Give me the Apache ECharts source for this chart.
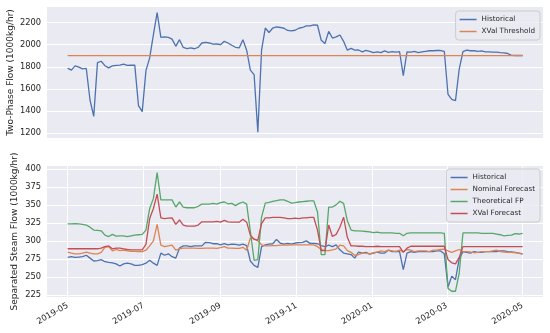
<!DOCTYPE html>
<html><head><meta charset="utf-8">
<script src="https://cdn.jsdelivr.net/npm/echarts@6/dist/echarts.min.js"></script>
<style>html,body{margin:0;padding:0;background:#fff}#c{width:550px;height:333px}</style>
</head><body><div id="c"></div>
<script>
// sampling: one value every 3 days starting 2019-05-01 (123 samples, last = 2020-05-01)
const startDate = [2019, 4, 1];
const stepDays = 3;

const twoPhaseHistorical = [1788,1770,1808,1797,1782,1785,1500,1352,1838,1850,1810,1790,1808,1812,1815,1825,1812,1814,1815,1450,1395,1765,1880,2090,2290,2065,2070,2065,2050,1985,2045,1975,1965,1970,1963,1975,2015,2020,2015,2005,2006,2000,2030,2015,1995,1976,1970,2045,1950,1770,1730,1210,1950,2150,2110,2150,2160,2155,2148,2128,2125,2130,2148,2155,2170,2170,2178,2175,2040,2010,2120,2060,2070,2087,2030,1950,1966,1950,1952,1935,1948,1940,1928,1935,1928,1943,1930,1937,1932,1938,1720,1935,1932,1940,1928,1935,1940,1945,1945,1947,1947,1940,1550,1505,1495,1780,1937,1950,1945,1945,1940,1943,1935,1935,1932,1932,1928,1926,1920,1903,1902,1902,1902];
const xvalThreshold = 1900;

const steamHistorical = [277,278,277,277.5,278,280,276,272,272.5,274,271,270,269.5,268,265,268,269,268,266,266,267,269,273,269,266,283,280,282,278,276,290,293,293,292,293,293,293,298,297.5,296,296,294.5,296,294.5,295.5,295,294,295.5,293.5,272,266,263,292,294.5,295.5,296,302,297,295.5,296.5,295.5,297,297.5,298,300,296.5,296.5,296,293.5,292,294,292,294.5,287.5,283,282,281,276,284.5,283,284,281.5,283,284.5,283,283,287,285,285.5,285,260,283,285,284,285,285,285,285,285,286,286,282,236,251,246,275,285,284,283,285,284,284,285,285,285,285,286,286,285,284.5,284,283,282];
const nominalForecast = [284.5,283,282,282,283,284.5,283,282,282,284,291,292,286,288,286.5,287,286,285.5,285.5,285,285,287,293,300,323,294,292,293,294,287,289,290,290,290,290,289.5,289.5,290,290,290,289.5,290.5,292,290,290,289.5,289.5,291,287,304,303,300,294.5,293,293,293.5,293.5,294,294,294,294.5,294.5,294.5,294.5,294.5,294.5,294.5,292,288,286.5,286.5,287.5,289,294,293,286.5,284,280,281,283,283,282,283.5,284.5,286,285,287,286,285,287,285,288,287,285,286,286,286,285,287,287,288,288.5,286,284,286,288,285,285,284.5,283.5,284,285,285,285,286,287,285,284.5,284,284,283.5,282.5,281.5];
const theoreticalFP = [323.5,323.5,324,323.5,323,322,319,315,314.5,314,308,306,309,306.5,307,307,306,307,308,308.5,309,315,345,359,395,357,357,357,357,347,354,347,346,346,346,348,351,351,351,352,351,353,354,351.5,352,349,352,354,351,313,273,274,333,352.5,353.5,355,356,357,357,355,352.5,353,354,354.5,355,355.5,355.5,340,281,281,347,347,350,355,352,328,315,314,314,313.5,313,312.5,311.5,312,311,311,311,311,310.5,310.5,307,310.5,311,311,311,311,311,311,311,311,311,310.5,234,230,230,255,311,311,311,311,311,310.5,310.5,310.5,310.5,309.5,308.5,307,307.5,308,310,309.5,310.5];
const xvalForecast = [289,289,289,289,289,289,289,289,289,290,292,293,289,290,290,289,288,287.5,287.5,287.5,287.5,295,331,345,365,332,331,331.5,332,323,329,322,320.5,320.5,320.5,322,326.5,326.5,326.5,326.5,327,326,328.5,326.5,326,326,326,330,326,308,302,301,324,332,332,332.5,332.5,332.5,332,331,331,331.5,331,332,332,332.5,332.5,315,286.5,286.5,322,306,309,319,333,305,293,293,292.5,292.5,292,292,292,292.5,292,292,292,292,292,292,284,290,292.5,292.5,292.5,292.5,292.5,292.5,292.5,292.5,292.5,292.5,274,269.5,268,277,292,292,292,292,292,292,292,292,292,292,292,292,292,292,292,292,292];

const xTickLabels = ['2019-05','2019-07','2019-09','2019-11','2020-01','2020-03','2020-05'];
const topYTicks = [1200,1400,1600,1800,2000,2200];
const bottomYTicks = [225,250,275,300,325,350,375,400];

const DAY = 86400000;
const dates = twoPhaseHistorical.map((_, i) => new Date(startDate[0], startDate[1], startDate[2] + i * stepDays).getTime());
const pair = arr => arr.map((v, i) => [dates[i], v]);
const xMin = dates[0] - 16.6 * DAY;
const xMax = dates[dates.length - 1] + 16.4 * DAY;
const xTickVals = xTickLabels.map(s => { const p = s.split('-'); return new Date(+p[0], +p[1] - 1, 1).getTime(); });

const TXT = '#262626';
const FONT = 'DejaVu Sans';
const C = ['#4c72b0', '#dd8452', '#55a868', '#c44e52'];
const pad2 = n => (n < 10 ? '0' : '') + n;

const chart = echarts.init(document.getElementById('c'), null, { renderer: 'canvas' });
const lineSeries = (name, data, color, xi) => ({
  type: 'line', name, data, xAxisIndex: xi, yAxisIndex: xi, showSymbol: false, symbol: 'none',
  lineStyle: { color, width: 1.3 }, itemStyle: { color }, emphasis: { disabled: true }
});
const legendBase = {
  orient: 'vertical', icon: 'rect', itemWidth: 17, itemHeight: 1.5, itemGap: 3,
  backgroundColor: 'rgba(234,234,242,0.8)', borderColor: '#cccccc', borderWidth: 1, borderRadius: 3,
  padding: [4, 5, 4, 4], textStyle: { fontSize: 7.2, color: TXT, fontFamily: FONT, lineHeight: 9 }
};
const yAxisBase = (gi, min, max, ticks, name, gap) => ({
  type: 'value', gridIndex: gi, min, max, name, nameLocation: 'middle', nameGap: gap, nameMoveOverlap: false,
  nameTextStyle: { fontSize: 9, color: TXT, fontFamily: FONT },
  axisLine: { show: false }, axisTick: { show: false, customValues: ticks },
  axisLabel: { customValues: ticks, fontSize: 8.3, color: TXT, fontFamily: FONT, margin: 6, formatter: v => String(v) },
  splitLine: { show: true, lineStyle: { color: '#ffffff', width: 1 } }
});

chart.setOption({
  animation: false,
  textStyle: { fontFamily: FONT },
  grid: [
    { left: 47, right: 7, top: 7, height: 131, show: true, backgroundColor: '#eaeaf2', borderWidth: 0, containLabel: false, outerBoundsMode: 'none' },
    { left: 47, right: 7, top: 166, height: 131, show: true, backgroundColor: '#eaeaf2', borderWidth: 0, containLabel: false, outerBoundsMode: 'none' }
  ],
  xAxis: [
    { type: 'value', gridIndex: 0, min: xMin, max: xMax, axisLine: { show: false }, axisTick: { show: false },
      axisLabel: { show: false }, splitLine: { show: false } },
    { type: 'value', gridIndex: 1, min: xMin, max: xMax, axisLine: { show: false },
      axisTick: { show: false, customValues: xTickVals },
      axisLabel: { customValues: xTickVals, rotate: 30, fontSize: 8.3, color: TXT, fontFamily: FONT, margin: 8,
        formatter: v => { const d = new Date(v); return d.getFullYear() + '-' + pad2(d.getMonth() + 1); } },
      splitLine: { show: true, lineStyle: { color: '#ffffff', width: 1 } } }
  ],
  yAxis: [
    yAxisBase(0, 1157, 2340, topYTicks, 'Two-Phase Flow (1000kg/hr)', 32),
    yAxisBase(1, 222, 404, bottomYTicks, 'Separated Steam Flow (1000kg/hr)', 28)
  ],
  legend: [
    Object.assign({}, legendBase, { data: ['Historical', 'XVal Threshold'], right: 10, top: 11 }),
    Object.assign({}, legendBase, { data: ['Historical', 'Nominal Forecast', 'Theoretical FP', 'XVal Forecast'], right: 10, top: 169 })
  ],
  series: [
    lineSeries('Historical', pair(twoPhaseHistorical), C[0], 0),
    lineSeries('XVal Threshold', [[dates[0], xvalThreshold], [dates[dates.length - 1], xvalThreshold]], C[1], 0),
    lineSeries('Historical', pair(steamHistorical), C[0], 1),
    lineSeries('Nominal Forecast', pair(nominalForecast), C[1], 1),
    lineSeries('Theoretical FP', pair(theoreticalFP), C[2], 1),
    lineSeries('XVal Forecast', pair(xvalForecast), C[3], 1)
  ]
});
</script></body></html>
